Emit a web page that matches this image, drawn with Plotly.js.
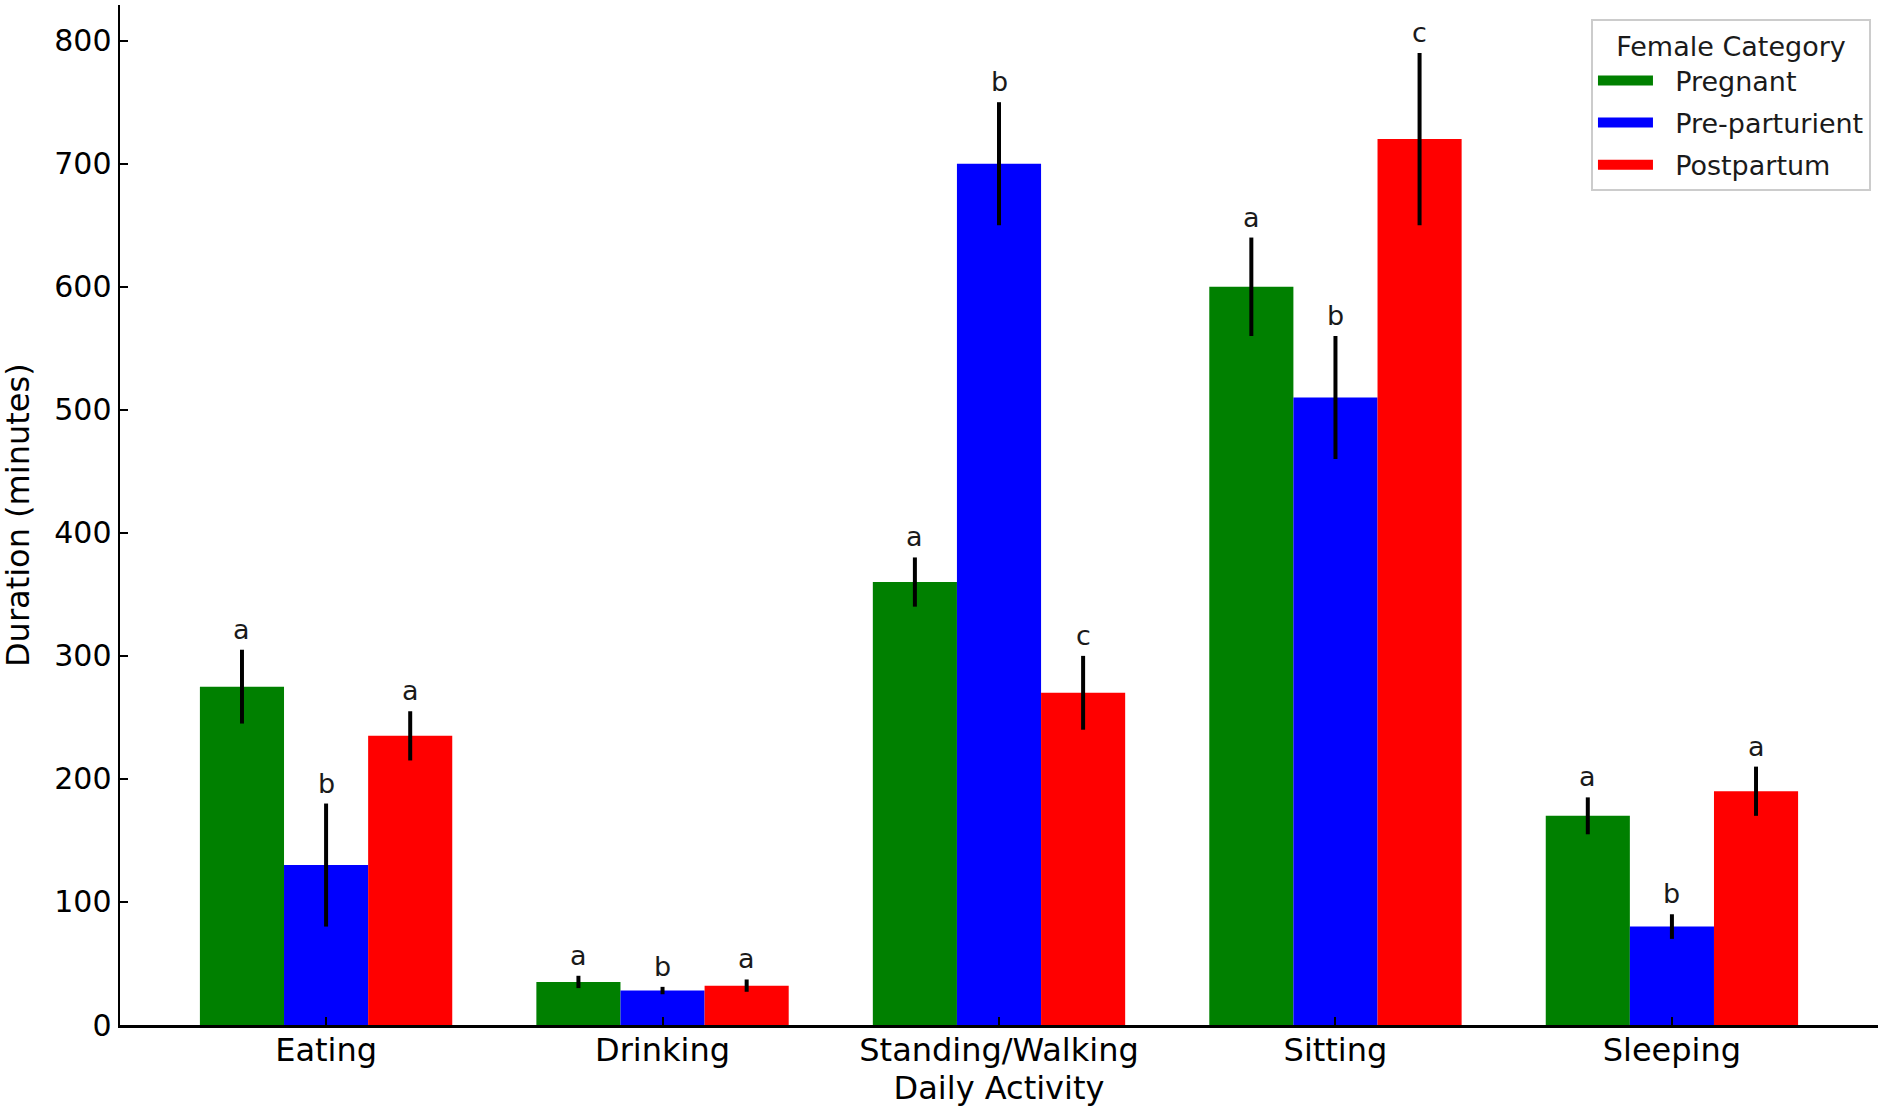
<!DOCTYPE html>
<html>
<head>
<meta charset="utf-8">
<script src="https://cdn.plot.ly/plotly-3.0.1.min.js"></script>
<style>
  html, body { margin: 0; padding: 0; background: #fff; }
  #chart { width: 1890px; height: 1113px; }
</style>
</head>
<body>
<div id="chart"></div>
<script>
'use strict'

// Data
const activities = ['Eating', 'Drinking', 'Standing/Walking', 'Sitting', 'Sleeping'];
const groupNames = ['Pregnant', 'Pre-parturient', 'Postpartum'];
const groupColors = ['green', 'blue', 'red'];

const pregnantMean = [275, 35, 360, 600, 170];
const pregnantErr = [30, 5, 20, 40, 15];
const pregnantLetters = ['a', 'a', 'a', 'a', 'a'];

const preMean = [130, 28, 700, 510, 80];
const preErr = [50, 3, 50, 50, 10];
const preLetters = ['b', 'b', 'b', 'b', 'b'];

const postMean = [235, 32, 270, 720, 190];
const postErr = [20, 5, 30, 70, 20];
const postLetters = ['a', 'a', 'c', 'c', 'a'];

const means = [pregnantMean, preMean, postMean];
const errs = [pregnantErr, preErr, postErr];
const letters = [pregnantLetters, preLetters, postLetters];

const font = 'DejaVu Sans, sans-serif';
const barWidth = 0.25;

let traces = [];
let annotations = [];

for (let g = 0; g < groupNames.length; g++) {
    traces.push({
        type: 'bar',
        x: activities,
        y: means[g],
        name: groupNames[g],
        marker: { color: groupColors[g], line: { width: 0 } },
        error_y: {
            type: 'data',
            array: errs[g],
            visible: true,
            color: 'black',
            thickness: 4,
            width: 0
        },
        showlegend: false,
        hoverinfo: 'skip'
    });

    // legend entries with wide swatches, like matplotlib patches
    traces.push({
        type: 'scatter',
        mode: 'lines',
        x: [null],
        y: [null],
        name: '\u00a0\u00a0' + groupNames[g],
        legendgroup: 'g' + g,
        line: { color: groupColors[g], width: 18 },
        hoverinfo: 'skip'
    });

    // significance letters above each error bar
    for (let i = 0; i < activities.length; i++) {
        annotations.push({
            x: i + (g - 1) * barWidth,
            y: means[g][i] + errs[g][i],
            xref: 'x',
            yref: 'y',
            text: letters[g][i],
            showarrow: false,
            yanchor: 'bottom',
            yshift: 3,
            font: { family: font, size: 27, color: '#1a1a1a' }
        });
    }
}

// y axis title, set a bit further out than plotly's own title sits
annotations.push({
    text: 'Duration (minutes)',
    xref: 'paper',
    yref: 'paper',
    x: -0.058,
    y: 0.5,
    xanchor: 'center',
    yanchor: 'middle',
    textangle: -90,
    showarrow: false,
    font: { family: font, size: 32, color: 'black' }
});

const layout = {
    width: 1890,
    height: 1113,
    margin: { l: 120, r: 12, t: 5, b: 88 },
    paper_bgcolor: 'white',
    plot_bgcolor: 'white',
    font: { family: font, color: 'black' },
    barmode: 'group',
    bargap: 0.25,
    bargroupgap: 0,
    showlegend: true,
    legend: {
        x: 0.996,
        y: 0.986,
        xanchor: 'right',
        yanchor: 'top',
        bgcolor: 'white',
        bordercolor: '#cccccc',
        borderwidth: 2,
        itemwidth: 55,
        tracegroupgap: 4,
        font: { family: font, size: 27, color: '#1a1a1a' },
        title: { text: 'Female Category', side: 'top center', font: { family: font, size: 27, color: '#1a1a1a' } }
    },
    xaxis: {
        type: 'category',
        range: [-0.6125, 4.6125],
        showline: true,
        linecolor: 'black',
        linewidth: 2.5,
        ticks: 'inside',
        ticklen: 8,
        tickwidth: 2,
        tickcolor: 'black',
        ticklabelstandoff: -5,
        showgrid: false,
        zeroline: false,
        tickfont: { family: font, size: 32, color: 'black' },
        title: { text: 'Daily Activity', font: { family: font, size: 32, color: 'black' }, standoff: 9 }
    },
    yaxis: {
        range: [0, 829],
        tickvals: [0, 100, 200, 300, 400, 500, 600, 700, 800],
        showline: true,
        linecolor: 'black',
        linewidth: 2.5,
        ticks: 'inside',
        ticklen: 8,
        tickwidth: 2,
        tickcolor: 'black',
        showgrid: false,
        zeroline: false,
        tickfont: { family: font, size: 30, color: 'black' }
    },
    annotations: annotations
};

Plotly.newPlot('chart', traces, layout, { displayModeBar: false, staticPlot: true });
</script>
</body>
</html>
